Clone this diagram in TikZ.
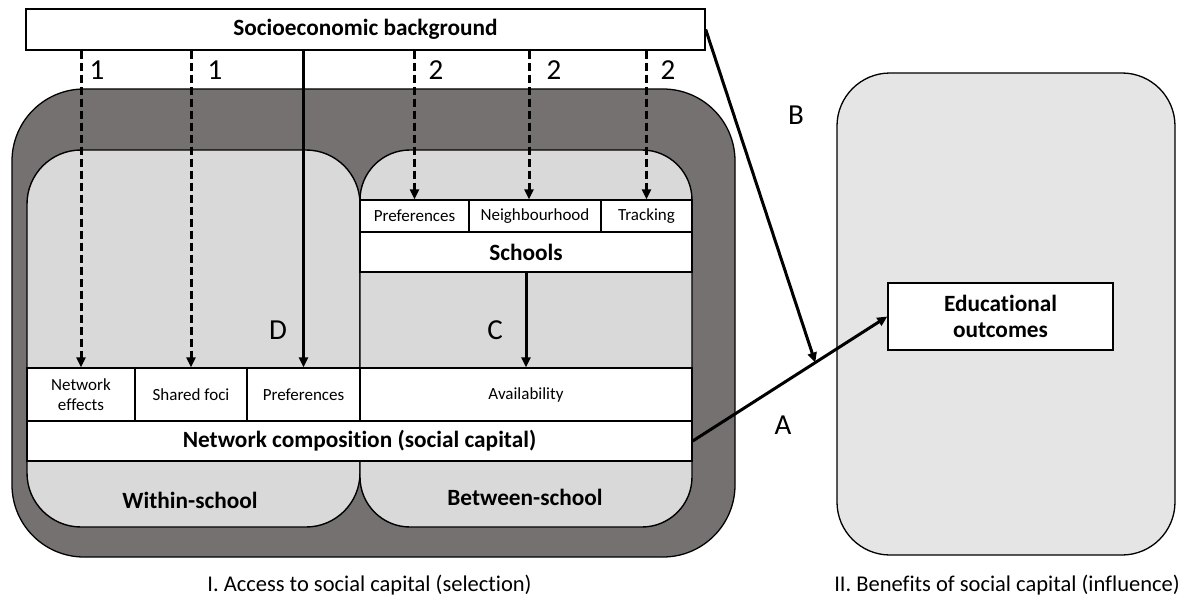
\documentclass[tikz,border=0pt]{standalone}
\usepackage{fontspec}
\setmainfont{Carlito}[Ligatures=NoCommon]
\usetikzlibrary{arrows.meta,positioning,calc}
\definecolor{outergray}{RGB}{118,113,113}
\definecolor{panelgray}{RGB}{217,217,217}
\definecolor{rightgray}{RGB}{229,229,229}

\begin{document}
\begin{tikzpicture}[x=1pt, y=-1pt,
  cell/.style={rectangle, draw, fill=white, line width=1.4pt, inner sep=0pt, align=center, font=\fontsize{17}{20}\selectfont},
  bar/.style={rectangle, draw, fill=white, line width=1.4pt, inner sep=0pt, align=center, font=\fontsize{23.3}{26}\selectfont\bfseries},
  panel/.style={draw, line width=1.4pt, fill=panelgray},
  dasharrow/.style={line width=3pt, dash pattern=on 8pt off 4pt, -{Triangle[length=10pt,width=9pt]}},
  solidarrow/.style={line width=3pt, -{Triangle[length=10pt,width=9pt]}},
  num/.style={font=\fontsize{29}{32}\selectfont},
]
  \useasboundingbox (0,0) rectangle (1192,610);

  % the two big areas
  \draw[line width=1.3pt, fill=outergray, rounded corners=72pt] (12,89) rectangle (735,557);
  \draw[line width=1.3pt, fill=rightgray, rounded corners=53pt] (837,73) rectangle (1175,555);
  \draw[panel, rounded corners=54pt] (27,150) rectangle (360,527);
  \draw[panel, rounded corners=50pt] (360,150) rectangle (692,527);

  % boxes
  \node[bar, minimum width=679, minimum height=41] (seb) at (365.5,29.5) {Socioeconomic background};

  \node[cell, minimum width=109, minimum height=32] (pref2) at (414.5,216) {Preferences};
  \node[cell, minimum width=132, minimum height=32] (neigh) at (535,216) {Neighbourhood};
  \node[cell, minimum width=91,  minimum height=32] (track) at (646.5,216) {Tracking};
  \node[bar, minimum width=332, minimum height=40] (schools) at (526,252) {Schools};

  \node[cell, minimum width=108, minimum height=53] (neteff) at (81,394.5) {Network\\effects};
  \node[cell, minimum width=112, minimum height=53] (foci) at (191,394.5) {Shared foci};
  \node[cell, minimum width=113, minimum height=53] (pref1) at (303.5,394.5) {Preferences};
  \node[cell, minimum width=332, minimum height=53] (avail) at (526,394.5) {Availability};
  \node[bar, minimum width=665, minimum height=40] (netcomp) at (359.5,441) {Network composition (social capital)};

  \node[bar, minimum width=225, minimum height=67] (edu) at (1000.5,316.5) {Educational\\outcomes};

  % arrows
  \draw[dasharrow] (neteff.north |- seb.south) -- (neteff.north);
  \draw[dasharrow] (foci.north |- seb.south) -- (foci.north);
  \draw[solidarrow] (pref1.north |- seb.south) -- (pref1.north);
  \draw[dasharrow] (pref2.north |- seb.south) -- (pref2.north);
  \draw[dasharrow] ([xshift=-6pt]neigh.north |- seb.south) -- ([xshift=-6pt]neigh.north);
  \draw[dasharrow] (track.north |- seb.south) -- (track.north);
  \draw[solidarrow] (schools.south) -- (avail.north);

  \draw[solidarrow] (netcomp.east) -- (edu.west);
  \coordinate (meet) at ($(netcomp.east)!0.63!(edu.west)$);
  \draw[solidarrow] (seb.east) -- (meet);

  % labels
  \node[num] at (97,70) {1};
  \node[num] at (215,70) {1};
  \node[num] at (436,70) {2};
  \node[num] at (554,70) {2};
  \node[num] at (668,70) {2};
  \node[num] at (796,115) {B};
  \node[num] at (783,425) {A};
  \node[num] at (495,330) {C};
  \node[num] at (278,330) {D};

  \node[font=\fontsize{23.3}{26}\selectfont\bfseries] (within) at (190,500) {Within-school};
  \node[font=\fontsize{23.3}{26}\selectfont\bfseries] (between) at (525,497) {Between-school};

  \node[font=\fontsize{22.5}{25}\selectfont] (capI) at (369.5,585) {I. Access to social capital (selection)};
  \node[font=\fontsize{22.5}{25}\selectfont] (capII) at (1007,585) {II. Benefits of social capital (influence)};
\end{tikzpicture}
\end{document}
